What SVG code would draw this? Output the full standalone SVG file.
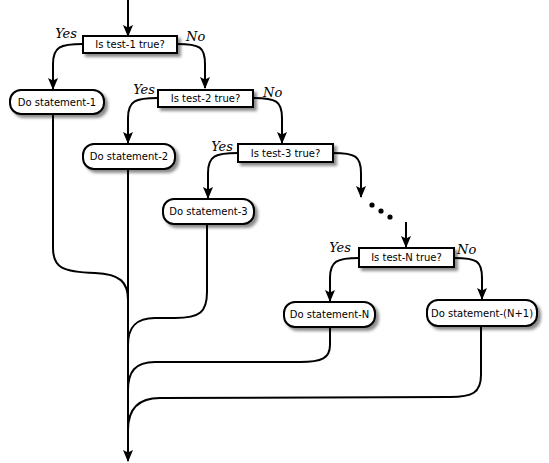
<svg xmlns="http://www.w3.org/2000/svg" width="549" height="463" viewBox="0 0 549 463">
<style>
.box{fill:#fff;stroke:#000;stroke-width:2;filter:url(#sh)}
.lbl{font-family:"DejaVu Sans",sans-serif;font-size:10px;text-anchor:middle;fill:#000}
.yn{font-family:"DejaVu Serif",serif;font-style:italic;font-size:13px;fill:#000}
.c{fill:none;stroke:#000;stroke-width:2}
.a{marker-end:url(#ah)}
</style>
<defs>
<filter id="sh" x="-20%" y="-40%" width="140%" height="190%">
<feGaussianBlur in="SourceAlpha" stdDeviation="1.5"/>
<feOffset dx="3" dy="3" result="b"/>
<feFlood flood-color="#000" flood-opacity="0.45"/>
<feComposite in2="b" operator="in"/>
<feMerge><feMergeNode/><feMergeNode in="SourceGraphic"/></feMerge>
</filter>
<marker id="ah" markerUnits="userSpaceOnUse" markerWidth="12" markerHeight="10" viewBox="0 0 12 10" refX="11" refY="5" orient="auto">
<path d="M0,0 L12,5 L0,10 L2.5,5 z" fill="#000"/>
</marker>
</defs>
<g id="connectors">
<path class="c a" d="M128,0 V36"/>
<path class="c a" d="M83,44 C60,44 53,47 53,64 V89"/>
<path class="c a" d="M177,44 C200,44 205,47 205,64 V88"/>
<path class="c a" d="M158,98 C135,98 128,101 128,118 V143"/>
<path class="c a" d="M253,98 C276,98 282,101 282,118 V143"/>
<path class="c a" d="M238,153 C215,153 208,156 208,173 V198"/>
<path class="c a" d="M333,153 C355,153 361,156 361,173 V197"/>
<path class="c a" d="M406,222 V247"/>
<path class="c a" d="M359,258 C337,258 330,261 330,278 V301"/>
<path class="c a" d="M454,258 C477,258 482,261 482,278 V299"/>
<path class="c a" d="M128,169 V461"/>
<path class="c" d="M53,114 V248 C53,268 63,272 95,273 C120,274 128,282 128,300"/>
<path class="c" d="M207,224 V292 C207,312 200,318 175,318 H155 C135,318 128,328 128,345"/>
<path class="c" d="M330,327 V345 C330,358 322,362 300,362 H155 C135,362 128,372 128,390"/>
<path class="c" d="M481,326 V375 C481,393 472,397 450,397 L160,398 C138,398 128,410 128,430"/>
<circle cx="372" cy="205" r="2.6"/>
<circle cx="381" cy="211" r="2.6"/>
<circle cx="390" cy="217" r="2.6"/>
</g>
<g id="test1">
<rect class="box" x="83" y="36" width="94" height="17"/>
<text class="lbl" x="130" y="48">Is test-1 true?</text>
<text class="yn" x="77" y="38" text-anchor="end">Yes</text>
<text class="yn" x="186" y="41">No</text>
</g>
<g id="stmt1">
<rect class="box" x="10" y="90" width="94" height="24" rx="11"/>
<text class="lbl" x="57" y="105.5">Do statement-1</text>
</g>
<g id="test2">
<rect class="box" x="158" y="90" width="95" height="17"/>
<text class="lbl" x="205.5" y="102">Is test-2 true?</text>
<text class="yn" x="155" y="94" text-anchor="end">Yes</text>
<text class="yn" x="263" y="97">No</text>
</g>
<g id="stmt2">
<rect class="box" x="83" y="144" width="92" height="25" rx="11"/>
<text class="lbl" x="129" y="160">Do statement-2</text>
</g>
<g id="test3">
<rect class="box" x="238" y="144" width="95" height="18"/>
<text class="lbl" x="285.5" y="157">Is test-3 true?</text>
<text class="yn" x="233" y="151" text-anchor="end">Yes</text>
</g>
<g id="stmt3">
<rect class="box" x="163" y="199" width="91" height="25" rx="11"/>
<text class="lbl" x="208.5" y="215">Do statement-3</text>
</g>
<g id="testN">
<rect class="box" x="359" y="248" width="95" height="19"/>
<text class="lbl" x="406.5" y="261">Is test-N true?</text>
<text class="yn" x="351" y="252" text-anchor="end">Yes</text>
<text class="yn" x="457" y="254">No</text>
</g>
<g id="stmtN">
<rect class="box" x="284" y="302" width="91" height="25" rx="11"/>
<text class="lbl" x="329.5" y="318">Do statement-N</text>
</g>
<g id="stmtN1">
<rect class="box" x="427" y="300" width="110" height="26" rx="11"/>
<text class="lbl" x="482" y="316.5">Do statement-(N+1)</text>
</g>
</svg>
